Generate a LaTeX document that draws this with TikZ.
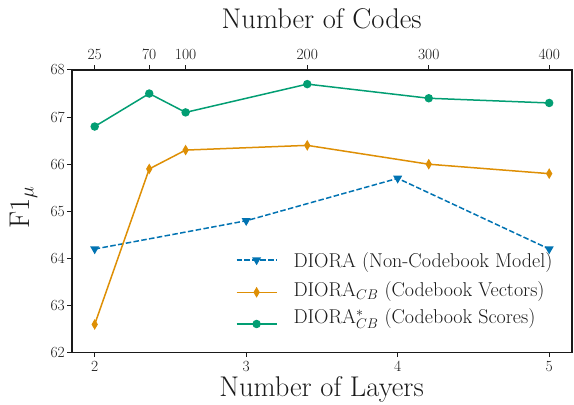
\documentclass[tikz,border=0pt]{standalone}
\usepackage{fix-cm}
\usepackage{fontspec}
\usetikzlibrary{shapes.geometric,calc}
\definecolor{cblue}{HTML}{0173B2}
\definecolor{corange}{HTML}{DE8F05}
\definecolor{cgreen}{HTML}{029E73}
\definecolor{spine}{HTML}{1A1A1A}
\tikzset{
  spineline/.style={draw=spine, line width=1.2pt},
  tickline/.style={draw=spine, line width=1pt},
  ticklab/.style={font=\fontsize{15.5}{18}\selectfont, text=spine, inner sep=0pt},
  bigtitle/.style={font=\fontsize{28.5}{33}\selectfont, text=spine, inner sep=0pt},
  legtext/.style={font=\fontsize{20}{23}\selectfont, text=spine, inner sep=0pt, anchor=base west},
  bline/.style={draw=cblue, line width=1.5pt, dash pattern=on 5.5pt off 2.4pt},
  oline/.style={draw=corange, line width=1.5pt},
  gline/.style={draw=cgreen, line width=1.5pt},
  gmark/.style={circle, fill=cgreen, inner sep=0pt, minimum size=8.5pt},
  omark/.style={diamond, fill=corange, inner sep=0pt, minimum width=6.5pt, minimum height=11pt},
  bmark/.style={regular polygon, regular polygon sides=3, shape border rotate=180, fill=cblue, inner sep=0pt, minimum size=10.5pt},
}
\begin{document}
\begin{tikzpicture}[x=1pt,y=1pt]
\useasboundingbox (0,0) rectangle (574,405);
\begin{scope}[shift={(94.7pt,52.3pt)}, x=151.5pt, y=47.12pt]
  % data coordinates (layers-2, F1-62)
  \coordinate (b1) at (0,2.2);
  \coordinate (b2) at (1,2.8);
  \coordinate (b3) at (2,3.7);
  \coordinate (b4) at (3,2.2);
  \coordinate (o1) at (0,0.6);
  \coordinate (o2) at (0.36,3.9);
  \coordinate (o3) at (0.6,4.3);
  \coordinate (o4) at (1.403,4.4);
  \coordinate (o5) at (2.205,4.0);
  \coordinate (o6) at (3,3.8);
  \coordinate (g1) at (0,4.8);
  \coordinate (g2) at (0.36,5.5);
  \coordinate (g3) at (0.6,5.1);
  \coordinate (g4) at (1.403,5.7);
  \coordinate (g5) at (2.205,5.4);
  \coordinate (g6) at (3,5.3);
  % axes frame corners
  \coordinate (ll) at (-0.15,0);
  \coordinate (lr) at (3.15,0);
  \coordinate (ul) at (-0.15,6);
  \coordinate (ur) at (3.15,6);
  % curves
  \draw[bline] (b1) -- (b2) -- (b3) -- (b4);
  \draw[oline] (o1) -- (o2) -- (o3) -- (o4) -- (o5) -- (o6);
  \draw[gline] (g1) -- (g2) -- (g3) -- (g4) -- (g5) -- (g6);
  \foreach \i in {1,...,4} \node[bmark] (bm\i) at (b\i) {};
  \foreach \i in {1,...,6} \node[omark] (om\i) at (o\i) {};
  \foreach \i in {1,...,6} \node[gmark] (gm\i) at (g\i) {};
  % frame
  \draw[spineline] (ll) rectangle (ur);
  % bottom ticks
  \foreach \l in {2,3,4,5} {
    \draw[tickline] (\l-2,0) -- ++(0,-4.5pt);
    \node[ticklab, anchor=north] (xl\l) at ([yshift=-8pt]\l-2,0) {\l};
  }
  % left ticks
  \foreach \v in {62,...,68} {
    \draw[tickline] (-0.15,\v-62) -- ++(-4.5pt,0);
    \node[ticklab, anchor=east] (yl\v) at ([xshift=-7pt]-0.15,\v-62) {\v};
  }
  % top ticks (number of codes)
  \foreach \x/\c in {0/25,0.36/70,0.6/100,1.403/200,2.205/300,3/400} {
    \draw[tickline] (\x,6) -- ++(0,4.5pt);
    \node[ticklab, anchor=base] (tl\c) at ([yshift=10pt]\x,6) {\c};
  }
\end{scope}
% titles
\node[bigtitle, anchor=base] (ttop) at (321.7,376.7) {Number of Codes};
\node[bigtitle, anchor=base] (tbot) at (321.5,8.3) {Number of Layers};
\node[bigtitle, anchor=base, rotate=90] (tleft) at (29,197.5) {F1$_\mu$};
% legend
\coordinate (la1) at (236.5,145);
\coordinate (lb1) at (276.7,145);
\coordinate (la2) at (236.5,112.7);
\coordinate (lb2) at (276.7,112.7);
\coordinate (la3) at (236.5,81);
\coordinate (lb3) at (276.7,81);
\draw[bline] (la1) -- (lb1);
\node[bmark] (lm1) at ($(la1)!0.5!(lb1)$) {};
\draw[oline] (la2) -- (lb2);
\node[omark] (lm2) at ($(la2)!0.5!(lb2)$) {};
\draw[gline] (la3) -- (lb3);
\node[gmark] (lm3) at ($(la3)!0.5!(lb3)$) {};
\node[legtext] (lt1) at (293.3,137.3) {DIORA (Non-Codebook Model)};
\node[legtext] (lt2) at (293.3,108.3) {DIORA$_{CB}$ (Codebook Vectors)};
\node[legtext] (lt3) at (293.3,81.7) {DIORA$^*_{CB}$ (Codebook Scores)};
\end{tikzpicture}
\end{document}
